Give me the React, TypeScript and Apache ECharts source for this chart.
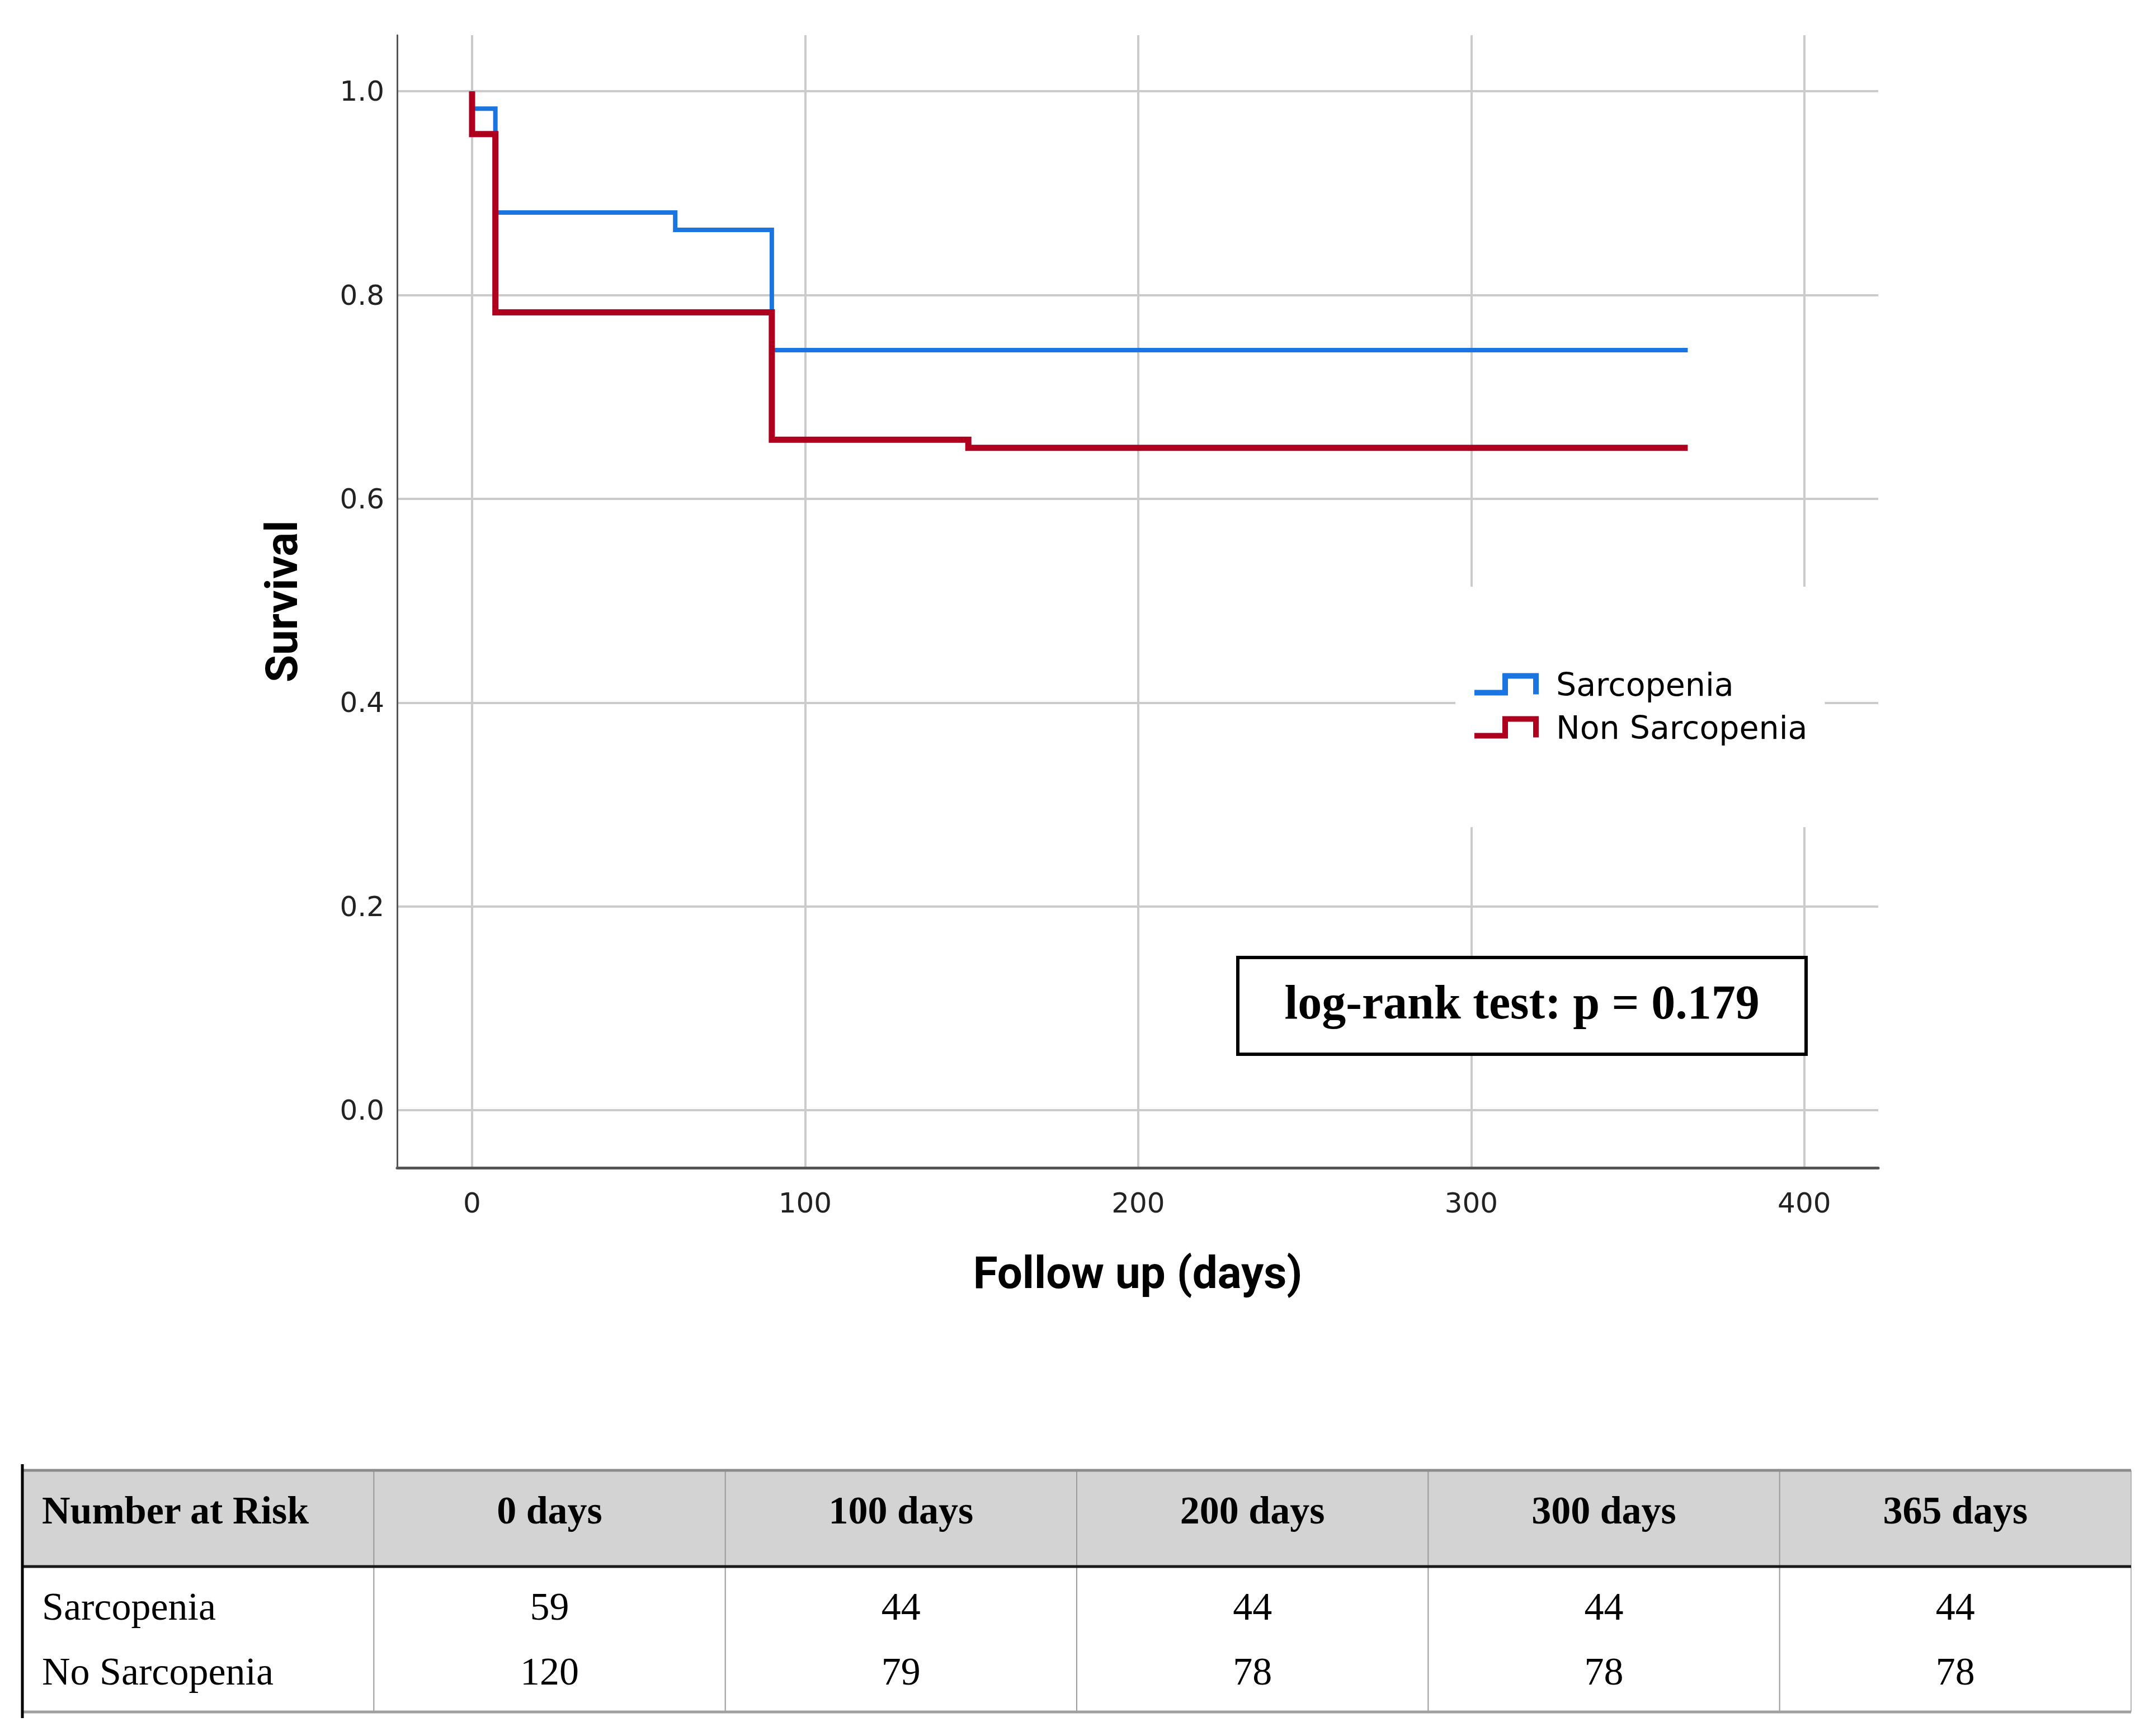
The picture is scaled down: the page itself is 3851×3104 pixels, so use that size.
import React, { useEffect, useRef } from "react";
import * as echarts from "echarts";

const W = 3851;
const H = 3104;

// Kaplan-Meier step points [day, survival]
const sarcopeniaDays = [0, 0, 7, 61, 90, 365];
const sarcopeniaSurv = [1.0, 0.983, 0.881, 0.864, 0.746, 0.746];
const nonSarcopeniaDays = [0, 0, 7, 90, 149, 365];
const nonSarcopeniaSurv = [1.0, 0.958, 0.783, 0.658, 0.65, 0.65];

const xTicks = [0, 100, 200, 300, 400];
const yTicks = [0, 0.2, 0.4, 0.6, 0.8, 1.0];
const xMin = -22.5;
const xMax = 422.2;
const yMin = -0.0565;
const yMax = 1.055;

const seriesNames = ["Sarcopenia", "Non Sarcopenia"];
const seriesColors = ["#1a75e0", "#ae001e"];
const seriesWidths = [8, 11];

const xTitle = "Follow up (days)";
const yTitle = "Survival";
const pValueText = "log-rank test: p = 0.179";

const riskHeader = ["Number at Risk", "0 days", "100 days", "200 days", "300 days", "365 days"];
const riskGroups = ["Sarcopenia", "No Sarcopenia"];
const riskSarcopenia = [59, 44, 44, 44, 44];
const riskNonSarcopenia = [120, 79, 78, 78, 78];

const LEGEND_ICON = "path://M0,30L50,30L50,0L115,0L115,38L105,38L105,10L60,10L60,40L0,40Z";

function buildTable(): any[] {
  const T = {
    left: 40,
    right: 3810,
    top: 2629,
    headBottom: 2801,
    bottom: 3061,
    barTop: 2618,
    barBottom: 3072,
    headY: 2700,
    rowY: [2872, 2988],
    pad: 35,
  };
  const n = riskHeader.length;
  const colW = (T.right - T.left) / n;
  const els: any[] = [];
  els.push({
    type: "rect",
    z: 20,
    shape: { x: T.left, y: T.top, width: T.right - T.left, height: T.headBottom - T.top },
    style: { fill: "#d3d3d3" },
  });
  for (let i = 1; i <= n; i++) {
    const x = T.left + i * colW;
    els.push({
      type: "line",
      z: 21,
      shape: { x1: x, y1: T.top, x2: x, y2: T.bottom },
      style: { stroke: i === n ? "#b5b5b5" : "#9a9a9a", lineWidth: 2 },
    });
  }
  els.push({ type: "line", z: 22, shape: { x1: T.left, y1: T.top, x2: T.right, y2: T.top }, style: { stroke: "#8c8c8c", lineWidth: 5 } });
  els.push({ type: "line", z: 22, shape: { x1: T.left, y1: T.headBottom, x2: T.right, y2: T.headBottom }, style: { stroke: "#1a1a1a", lineWidth: 5 } });
  els.push({ type: "line", z: 22, shape: { x1: T.left, y1: T.bottom, x2: T.right, y2: T.bottom }, style: { stroke: "#a0a0a0", lineWidth: 5 } });
  els.push({ type: "line", z: 23, shape: { x1: T.left, y1: T.barTop, x2: T.left, y2: T.barBottom }, style: { stroke: "#000", lineWidth: 5 } });

  const txt = (s: string, x: number, y: number, align: string, bold: boolean) => ({
    type: "text",
    z: 24,
    x,
    y,
    style: {
      text: s,
      fontFamily: "Liberation Serif",
      fontSize: 70,
      fontWeight: bold ? "bold" : "normal",
      fill: "#000",
      align,
      verticalAlign: "middle",
      textAlign: align,
      textVerticalAlign: "middle",
    },
  });
  riskHeader.forEach((h, i) => {
    if (i === 0) els.push(txt(h, T.left + T.pad, T.headY, "left", true));
    else els.push(txt(h, T.left + (i + 0.5) * colW, T.headY, "center", true));
  });
  const rows = [riskSarcopenia, riskNonSarcopenia];
  rows.forEach((vals, r) => {
    els.push(txt(riskGroups[r], T.left + T.pad, T.rowY[r], "left", false));
    vals.forEach((v, i) => {
      els.push(txt(String(v), T.left + (i + 1.5) * colW, T.rowY[r], "center", false));
    });
  });
  return els;
}

function buildOption(): any {
  const dataS = sarcopeniaDays.map((d, i) => [d, sarcopeniaSurv[i]]);
  const dataN = nonSarcopeniaDays.map((d, i) => [d, nonSarcopeniaSurv[i]]);
  const box = { x1: 2213, y1: 1712, x2: 3229, y2: 1885 };
  return {
    animation: false,
    backgroundColor: "#ffffff",
    grid: { left: 710, top: 63, width: 2648, height: 2025, containLabel: false },
    legend: {
      orient: "vertical",
      left: 2602,
      top: 1049,
      padding: [146, 31, 150, 34],
      backgroundColor: "#ffffff",
      itemWidth: 115,
      itemHeight: 40,
      itemGap: 20,
      selectedMode: false,
      itemStyle: { borderWidth: 0 },
      textStyle: { fontFamily: "DejaVu Sans", fontSize: 57, color: "#000", padding: [0, 0, 0, 26] },
      data: seriesNames.map((name, i) => ({ name, icon: LEGEND_ICON, itemStyle: { color: seriesColors[i] } })),
    },
    xAxis: {
      type: "value",
      min: xMin,
      max: xMax,
      name: xTitle,
      nameLocation: "middle",
      nameGap: 148,
      nameTextStyle: { fontFamily: "Roboto", fontWeight: "bold", fontSize: 80, color: "#000" },
      axisLine: { show: true, onZero: false, lineStyle: { color: "#555", width: 5 } },
      axisTick: { show: false, customValues: xTicks },
      axisLabel: { customValues: xTicks, fontFamily: "DejaVu Sans", fontSize: 50, color: "#222", margin: 38 },
      splitLine: { show: true, lineStyle: { color: "#cbcbcb", width: 4 } },
    },
    yAxis: {
      type: "value",
      min: yMin,
      max: yMax,
      name: yTitle,
      nameLocation: "middle",
      nameRotate: 90,
      nameGap: 166,
      nameTextStyle: { fontFamily: "Roboto", fontWeight: "bold", fontSize: 80, color: "#000" },
      axisLine: { show: true, onZero: false, lineStyle: { color: "#555", width: 3 } },
      axisTick: { show: false, customValues: yTicks },
      axisLabel: {
        customValues: yTicks,
        fontFamily: "DejaVu Sans",
        fontSize: 50,
        color: "#222",
        margin: 23,
        formatter: (v: number) => v.toFixed(1),
      },
      splitLine: { show: true, lineStyle: { color: "#cbcbcb", width: 4 } },
    },
    series: [
      {
        name: seriesNames[0],
        type: "line",
        step: "end",
        symbol: "none",
        data: dataS,
        itemStyle: { color: seriesColors[0] },
        lineStyle: { color: seriesColors[0], width: seriesWidths[0], join: "miter", cap: "butt" },
        z: 3,
      },
      {
        name: seriesNames[1],
        type: "line",
        step: "end",
        symbol: "none",
        data: dataN,
        itemStyle: { color: seriesColors[1] },
        lineStyle: { color: seriesColors[1], width: seriesWidths[1], join: "miter", cap: "butt" },
        z: 4,
      },
    ],
    graphic: [
      {
        type: "rect",
        z: 10,
        shape: { x: box.x1, y: box.y1, width: box.x2 - box.x1, height: box.y2 - box.y1 },
        style: { fill: "#ffffff", stroke: "#000", lineWidth: 6 },
      },
      {
        type: "text",
        z: 11,
        x: (box.x1 + box.x2) / 2,
        y: 1792,
        style: {
          text: pValueText,
          fontFamily: "Liberation Serif",
          fontWeight: "bold",
          fontSize: 86,
          fill: "#000",
          align: "center",
          verticalAlign: "middle",
          textAlign: "center",
          textVerticalAlign: "middle",
        },
      },
      ...buildTable(),
    ],
  };
}

export default function App() {
  const ref = useRef<HTMLDivElement>(null);
  useEffect(() => {
    document.body.style.margin = "0";
    const chart = echarts.init(ref.current as HTMLDivElement, null, { renderer: "svg", width: W, height: H });
    chart.setOption(buildOption());
    return () => chart.dispose();
  }, []);
  return (
    <div
      ref={ref}
      style={{ width: W, height: H, position: "absolute", left: 0, top: 0, background: "#fff" }}
    />
  );
}
